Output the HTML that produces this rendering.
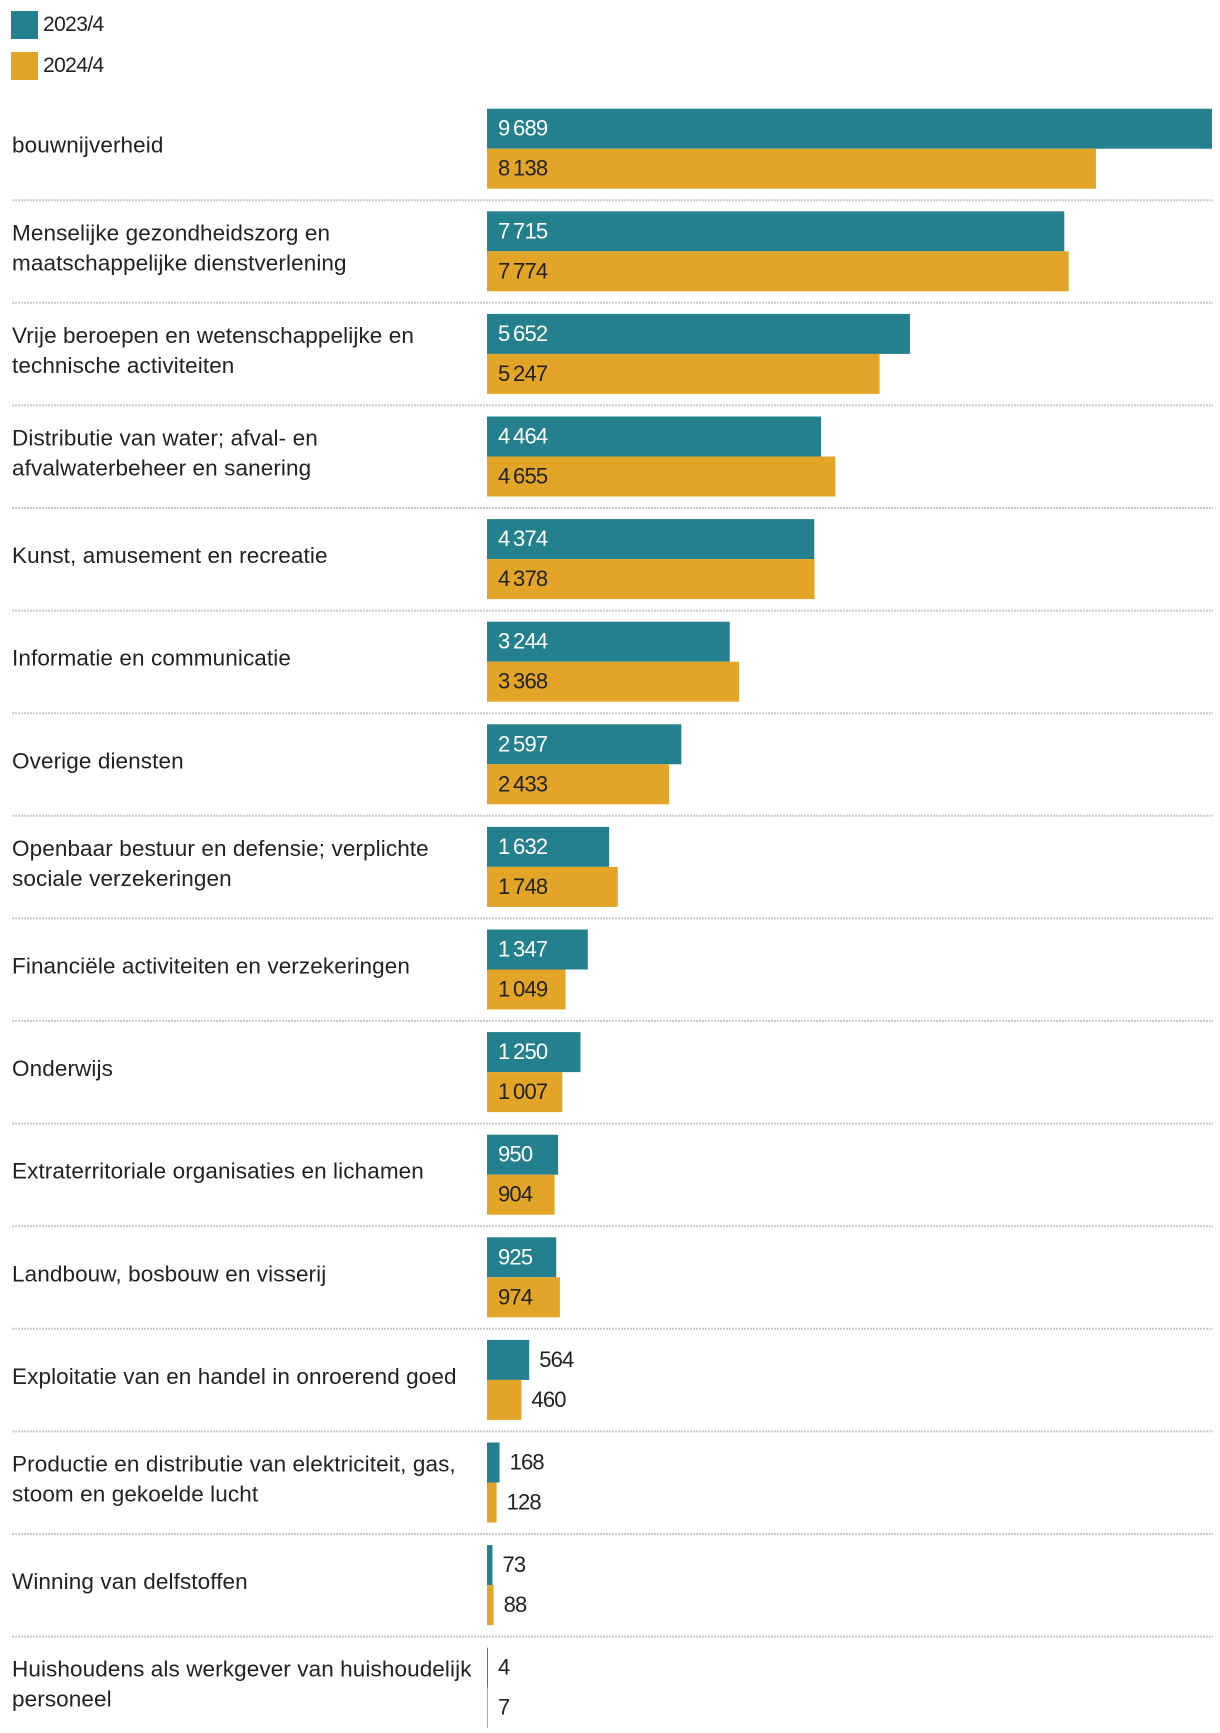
<!DOCTYPE html>
<html><head><meta charset="utf-8">
<style>
body{margin:0;background:#fff;width:1220px;height:1728px;overflow:hidden;font-family:"Liberation Sans",sans-serif;color:#222;}
svg text{font-family:"Liberation Sans",sans-serif;}
</style></head>
<body>
<svg id="chart" width="1220" height="1728">
<g>
  <rect x="11" y="11" width="27" height="28" fill="#23808c"/>
  <text x="43" y="31" font-size="21" letter-spacing="-0.6" fill="#222">2023/4</text>
  <rect x="11" y="52" width="27" height="28" fill="#e2a527"/>
  <text x="43" y="72" font-size="21" letter-spacing="-0.6" fill="#222">2024/4</text>
</g>
<g id="rows"></g>
</svg>
<script>
const categories=[
 ["bouwnijverheid"],
 ["Menselijke gezondheidszorg en","maatschappelijke dienstverlening"],
 ["Vrije beroepen en wetenschappelijke en","technische activiteiten"],
 ["Distributie van water; afval- en","afvalwaterbeheer en sanering"],
 ["Kunst, amusement en recreatie"],
 ["Informatie en communicatie"],
 ["Overige diensten"],
 ["Openbaar bestuur en defensie; verplichte","sociale verzekeringen"],
 ["Financiële activiteiten en verzekeringen"],
 ["Onderwijs"],
 ["Extraterritoriale organisaties en lichamen"],
 ["Landbouw, bosbouw en visserij"],
 ["Exploitatie van en handel in onroerend goed"],
 ["Productie en distributie van elektriciteit, gas,","stoom en gekoelde lucht"],
 ["Winning van delfstoffen"],
 ["Huishoudens als werkgever van huishoudelijk","personeel"]
];
const series2023=[9689,7715,5652,4464,4374,3244,2597,1632,1347,1250,950,925,564,168,73,4];
const series2024=[8138,7774,5247,4655,4378,3368,2433,1748,1049,1007,904,974,460,128,88,7];
const seriesNames=["2023/4","2024/4"];

const NS="http://www.w3.org/2000/svg";
const g=document.getElementById('rows');
const x0=487, x1=1212, maxV=9689;
const xScale=v=>x0+(x1-x0)*v/maxV;
const rowTop=i=>108.7+i*102.6;
const barH=40;
const fmt=v=>{const s=String(v);return s.length>3?s.slice(0,-3)+"\u2009"+s.slice(-3):s;};
function mk(tag,attrs){const e=document.createElementNS(NS,tag);for(const k in attrs)e.setAttribute(k,attrs[k]);return e;}
categories.forEach((lines,i)=>{
  const top=rowTop(i);
  const mid=top+barH;
  const lab=mk('text',{x:12,'font-size':22.5,fill:'#222','letter-spacing':'0.1'});
  
  
  const lh=30, startY=mid+4-(lines.length-1)*lh/2;
  lines.forEach((l,j)=>{const t=mk('tspan',{x:12,y:startY+j*lh});t.textContent=l;lab.appendChild(t);});
  g.appendChild(lab);
  [[series2023,'#23808c','#fff'],[series2024,'#e2a527','#222']].forEach(([arr,col,tc],s)=>{
    const v=arr[i], y=top+s*barH, w=Math.max(xScale(v)-x0,1);
    const r=mk('rect',{x:x0,y:y,width:w,height:barH,fill:col});
    
    
    g.appendChild(r);
    const inside=w>55;
    const t=mk('text',{x:inside?x0+11:x0+w+10,y:y+27,'font-size':22,'letter-spacing':'-0.8',fill:inside?tc:'#222'});
    
    
    t.textContent=fmt(v);
    g.appendChild(t);
  });
  if(i<categories.length-1){
    const ly=top+2*barH+11.5;
    const ln=mk('line',{x1:12,x2:1213,y1:ly,y2:ly,stroke:'#ccc','stroke-width':2,'stroke-dasharray':'2 1'});
    
    
    g.appendChild(ln);
  }
});
</script>
</body></html>
